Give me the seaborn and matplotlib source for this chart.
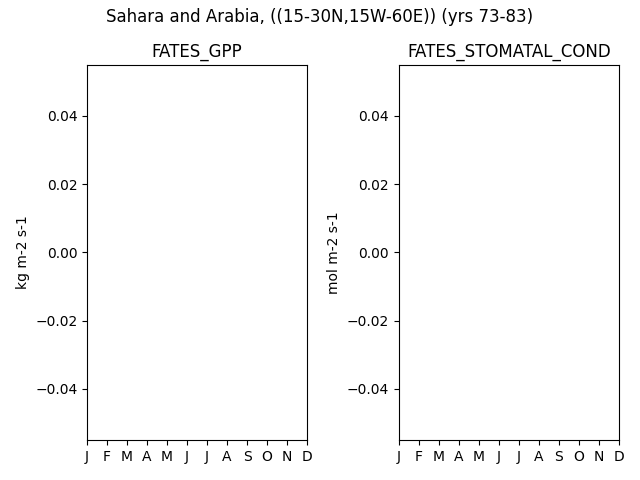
import numpy as np
import pandas as pd
import matplotlib
matplotlib.use("Agg")
import matplotlib.pyplot as plt
import seaborn as sns

# Monthly climatology (no valid data in this region -> all NaN)
months = np.arange(1, 13)
month_labels = ["J", "F", "M", "A", "M", "J", "J", "A", "S", "O", "N", "D"]
gpp = [np.nan] * 12
stomatal_cond = [np.nan] * 12

variables = ["FATES_GPP", "FATES_STOMATAL_COND"]
units = ["kg m-2 s-1", "mol m-2 s-1"]
series = [gpp, stomatal_cond]

fig, axes = plt.subplots(1, 2, figsize=(6.4, 4.8), dpi=100)

for ax, name, unit, vals in zip(axes, variables, units, series):
    df = pd.DataFrame({"month": months, "value": vals})
    sns.lineplot(x="month", y="value", data=df.dropna(), ax=ax)
    ax.set_title(name)
    ax.set_ylabel(unit)
    ax.set_xlabel("")
    ax.set_xticks(months)
    ax.set_xticklabels(month_labels)
    ax.set_xlim(months[0], months[-1])
    ax.set_ylim(-0.055, 0.055)

fig.suptitle("Sahara and Arabia, ((15-30N,15W-60E)) (yrs 73-83)", y=0.984)
fig.subplots_adjust(left=0.136, right=0.967, bottom=0.083, top=0.865, wspace=0.418)
fig.savefig("out.png")
